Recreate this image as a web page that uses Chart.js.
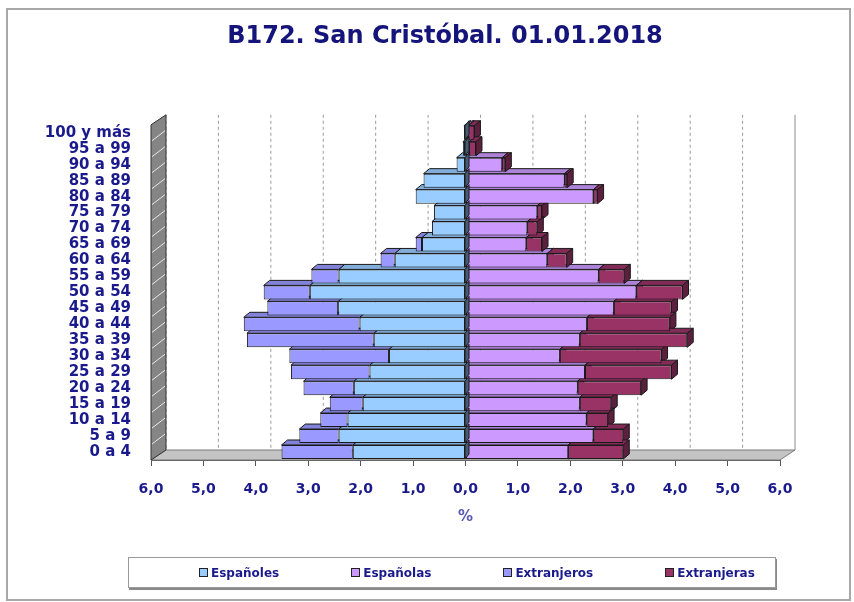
<!DOCTYPE html>
<html>
<head>
<meta charset="utf-8">
<script src="https://cdn.jsdelivr.net/npm/chart.js@4.4.1/dist/chart.umd.min.js"></script>
<style>
  body { margin: 0; background: #fff; }
  #marco { position: absolute; left: 6px; top: 8px; width: 841px; height: 589px; border: 2px solid #a8a8a8; }
  #lienzo { position: absolute; left: 0; top: 0; width: 854px; height: 602px; }
  #leyenda { position: absolute; left: 128px; top: 557px; width: 648px; height: 31px; border: 1px solid #9a9a9a;
    box-shadow: 1px 2px 0 #8a8a8a; background: #fff; display: flex; align-items: center; padding-left: 70px; box-sizing: border-box;
    font: bold 12px "DejaVu Sans"; color: #1a1a8c; }
  #leyenda span.item { display: flex; align-items: center; margin-right: 72px; white-space: nowrap; }
  #leyenda i { display: inline-block; width: 7px; height: 7px; border: 1px solid #222; margin-right: 3px; }
</style>
</head>
<body>
<div id="marco"></div>
<div id="lienzo"><canvas id="grafico"></canvas></div>
<div id="leyenda"></div>
<script>
const edades = ['100 y más', '95 a 99', '90 a 94', '85 a 89', '80 a 84', '75 a 79', '70 a 74', '65 a 69',
  '60 a 64', '55 a 59', '50 a 54', '45 a 49', '40 a 44', '35 a 39', '30 a 34', '25 a 29', '20 a 24',
  '15 a 19', '10 a 14', '5 a 9', '0 a 4']

const espanoles   = [0.03, 0.05, 0.17, 0.80, 0.95, 0.60, 0.64, 0.83, 1.35, 2.42, 2.97, 2.43, 2.02, 1.75, 1.46, 1.83, 2.13, 1.96, 2.25, 2.42, 2.15]
const extranjeros = [0.00, 0.00, 0.00, 0.00, 0.00, 0.00, 0.00, 0.12, 0.27, 0.52, 0.88, 1.35, 2.21, 2.42, 1.90, 1.50, 0.96, 0.63, 0.52, 0.75, 1.36]
const espanolas   = [0.05, 0.07, 0.70, 1.89, 2.44, 1.37, 1.18, 1.16, 1.56, 2.54, 3.26, 2.83, 2.32, 2.18, 1.80, 2.28, 2.14, 2.18, 2.31, 2.44, 1.96]
const extranjeras = [0.12, 0.13, 0.06, 0.05, 0.08, 0.09, 0.19, 0.30, 0.37, 0.49, 0.88, 1.10, 1.58, 2.05, 1.94, 1.65, 1.21, 0.60, 0.41, 0.57, 1.05]

const marcasX = [-6, -5, -4, -3, -2, -1, 0, 1, 2, 3, 4, 5, 6]

const azulTexto = '#1a1a8c'
const DX = 15, DY = -10   // fondo 3d
const BX = 6, BY = -5     // grosor de cada barra

const oscurecer = (hex, f) => {
  const n = parseInt(hex.slice(1), 16)
  const r = Math.round(((n >> 16) & 255) * f)
  const g = Math.round(((n >> 8) & 255) * f)
  const b = Math.round((n & 255) * f)
  return `rgb(${r},${g},${b})`
}

const poligono = (ctx, pts, relleno, trazo) => {
  ctx.beginPath()
  ctx.moveTo(pts[0][0], pts[0][1])
  pts.slice(1).forEach(p => ctx.lineTo(p[0], p[1]))
  ctx.closePath()
  if (relleno) { ctx.fillStyle = relleno; ctx.fill() }
  if (trazo) { ctx.strokeStyle = trazo; ctx.stroke() }
}

const barraProps = bar => {
  const p = bar.getProps(['x', 'y', 'base', 'height'], true)
  return { l: Math.min(p.x, p.base), r: Math.max(p.x, p.base), t: p.y - p.height / 2, b: p.y + p.height / 2, pos: p.x > p.base }
}

const fondo3d = {
  id: 'fondo3d',
  afterLayout(chart) {
    // centrar el titulo como en el original
    if (chart.titleBlock) { chart.titleBlock.left = 90; chart.titleBlock.right = 800 }
  },
  beforeDatasetsDraw(chart) {
    const { ctx, chartArea: a, scales: { x, y } } = chart
    ctx.save()
    ctx.lineWidth = 1

    // lineas de la pared del fondo
    ctx.strokeStyle = '#9a9a9a'
    ctx.setLineDash([3, 3])
    marcasX.slice(0, -1).forEach(v => {
      const px = x.getPixelForValue(v) + DX
      ctx.beginPath(); ctx.moveTo(px, a.top + DY); ctx.lineTo(px, a.bottom + DY); ctx.stroke()
    })
    ctx.setLineDash([])
    const pr = x.getPixelForValue(6) + DX
    ctx.strokeStyle = '#8a8a8a'
    ctx.beginPath(); ctx.moveTo(pr, a.top + DY); ctx.lineTo(pr, a.bottom + DY); ctx.stroke()

    // suelo
    poligono(ctx, [[a.left, a.bottom], [a.right, a.bottom], [a.right + DX, a.bottom + DY], [a.left + DX, a.bottom + DY]], '#c4c4c4', '#7a7a7a')
    // pared izquierda
    poligono(ctx, [[a.left, a.top], [a.left + DX, a.top + DY], [a.left + DX, a.bottom + DY], [a.left, a.bottom]], '#858585', '#333')
    const paso = Math.abs(y.getPixelForValue(1) - y.getPixelForValue(0))
    ctx.strokeStyle = '#e8e8e8'
    edades.forEach((e, i) => {
      const yy = y.getPixelForValue(i) - paso / 2
      if (i === 0) return
      ctx.beginPath(); ctx.moveTo(a.left + 1, yy); ctx.lineTo(a.left + DX - 1, yy + DY); ctx.stroke()
    })

    // caras superiores y laterales de las barras
    chart.data.datasets.forEach((ds, i) => {
      chart.getDatasetMeta(i).data.forEach(bar => {
        const { l, r, t, b, pos } = barraProps(bar)
        if (r - l < 0.5) return
        poligono(ctx, [[l, t], [r, t], [r + BX, t + BY], [l + BX, t + BY]], oscurecer(ds.backgroundColor, 0.85), '#1a1a1a')
        if (pos) poligono(ctx, [[r, t], [r + BX, t + BY], [r + BX, b + BY], [r, b]], oscurecer(ds.backgroundColor, 0.6), '#1a1a1a')
      })
    })
    ctx.restore()
  },
  afterDatasetsDraw(chart) {
    // lateral oscuro de los españoles junto al eje central
    const { ctx } = chart
    const ds = chart.data.datasets[0]
    ctx.save()
    ctx.lineWidth = 1
    chart.getDatasetMeta(0).data.forEach(bar => {
      const { l, r, t, b } = barraProps(bar)
      if (r - l < 0.5) return
      poligono(ctx, [[r, t], [r + 4, t + BY], [r + 4, b + BY], [r, b]], oscurecer(ds.backgroundColor, 0.45), '#1a1a1a')
    })
    ctx.restore()
  }
}

const serie = (label, datos, color, lado) => ({
  label: label,
  data: datos.map(v => v * lado),
  backgroundColor: color,
  borderColor: '#1a1a1a',
  borderWidth: 1,
  borderSkipped: false,
  stack: 'piramide',
  barPercentage: 0.88,
  categoryPercentage: 1
})

const ctx = document.getElementById('grafico').getContext('2d')

const piramide = new Chart(ctx, {
  type: 'bar',
  data: {
    labels: edades,
    datasets: [
      serie('Españoles', espanoles, '#99ccff', -1),
      serie('Españolas', espanolas, '#cc99ff', 1),
      serie('Extranjeros', extranjeros, '#9999ff', -1),
      serie('Extranjeras', extranjeras, '#993366', 1)
    ]
  },
  options: {
    indexAxis: 'y',
    responsive: true,
    maintainAspectRatio: false,
    animation: false,
    layout: { padding: { left: 0, right: 74, top: 0, bottom: 0 } },
    plugins: {
      legend: { display: false },
      tooltip: { enabled: false },
      title: {
        display: true,
        text: 'B172. San Cristóbal. 01.01.2018',
        color: '#14147a',
        font: { family: 'DejaVu Sans', size: 24, weight: 'bold' },
        padding: { top: 22, bottom: 74 }
      }
    },
    scales: {
      x: {
        type: 'linear',
        stacked: true,
        min: -6,
        max: 6,
        afterBuildTicks: scale => { scale.ticks = marcasX.map(v => ({ value: v })) },
        afterFit: scale => { scale.height = 142 },
        ticks: {
          color: azulTexto,
          padding: 15,
          maxRotation: 0,
          font: { family: 'DejaVu Sans', size: 14, weight: 'bold' },
          callback: v => Math.abs(v).toFixed(1).replace('.', ',')
        },
        grid: { drawOnChartArea: false, drawTicks: true, tickLength: 6, tickColor: '#555' },
        border: { display: true, color: '#555' },
        title: {
          display: true,
          text: '%',
          color: '#5a5ab4',
          font: { family: 'DejaVu Sans', size: 15, weight: 'bold' },
          padding: { top: 0, bottom: 76 }
        }
      },
      y: {
        stacked: true,
        afterFit: scale => { scale.width = 151 },
        ticks: {
          color: azulTexto,
          padding: 20,
          autoSkip: false,
          font: { family: 'DejaVu Sans', size: 15, weight: 'bold' }
        },
        grid: { display: false, drawTicks: false },
        border: { display: false }
      }
    }
  },
  plugins: [fondo3d]
})

// leyenda en html, igual que la del original
const leyenda = document.getElementById('leyenda')
piramide.data.datasets.forEach(ds => {
  leyenda.insertAdjacentHTML('beforeend',
    `<span class="item"><i style="background:${ds.backgroundColor}"></i>${ds.label}</span>`)
})
</script>
</body>
</html>
